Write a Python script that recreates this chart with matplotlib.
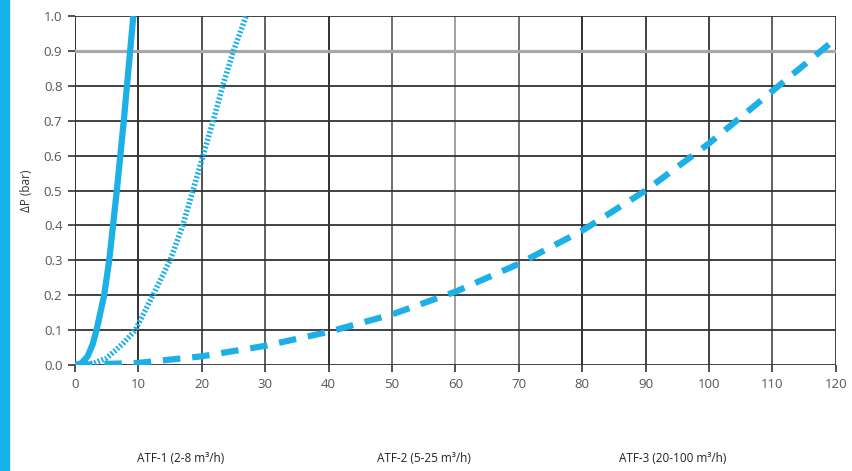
import numpy as np
import matplotlib.pyplot as plt
from matplotlib.patches import Rectangle

plt.rcParams['font.family'] = ['Open Sans', 'DejaVu Sans']

# ATF-1 (solid)
atf1_x = [0, 1.0, 2.0, 2.8, 3.4, 4.6, 5.4, 6.0, 6.6, 7.15, 7.7, 8.2, 8.7, 9.2]
atf1_y = [0, 0.005, 0.025, 0.06, 0.1, 0.2, 0.3, 0.4, 0.5, 0.6, 0.7, 0.8, 0.9, 1.0]
# ATF-2 (dotted)
atf2_x = [0, 3, 5, 7.5, 9.5, 12.3, 15.0, 17.0, 18.6, 20.2, 21.8, 23.3, 25.0, 27.0]
atf2_y = [0, 0.005, 0.02, 0.06, 0.1, 0.2, 0.3, 0.4, 0.5, 0.6, 0.7, 0.8, 0.9, 1.0]
# ATF-3 (dashed)
atf3_x = [0, 10, 20, 30, 40, 50, 60, 70, 80, 90, 100, 110, 120]
atf3_y = [0, 0.006, 0.025, 0.055, 0.095, 0.145, 0.21, 0.29, 0.385, 0.5, 0.635, 0.785, 0.935]

x_ticks = list(range(0, 121, 10))
y_ticks = [round(v * 0.1, 1) for v in range(11)]
series_labels = ['ATF-1 (2-8 m³/h)', 'ATF-2 (5-25 m³/h)', 'ATF-3 (20-100 m³/h)']
label_pos = [0.212, 0.497, 0.789]

blue = '#1cb0e6'

fig = plt.figure(figsize=(8.52, 4.71), dpi=100)
ax = fig.add_axes([0.088, 0.225, 0.893, 0.741])

# grid
vcols = {0: '#222', 10: '#222', 20: '#444', 30: '#555', 40: '#222', 50: '#666',
         60: '#999', 70: '#666', 80: '#222', 90: '#333', 100: '#333', 110: '#555', 120: '#333'}
for xv in x_ticks:
    ax.axvline(xv, color=vcols[xv], lw=1.3, zorder=1)
for yv in y_ticks:
    if yv == 0.9:
        ax.axhline(yv, color='#a8a8a8', lw=2.3, zorder=1)
    else:
        ax.axhline(yv, color='#333', lw=1.3, zorder=1)

ax.plot(atf3_x, atf3_y, color=blue, lw=4.5, dashes=(2.8, 1.9), zorder=3)
ax.plot(atf2_x, atf2_y, color=blue, lw=4, dashes=(0.35, 0.35), zorder=3)
ax.plot(atf1_x, atf1_y, color=blue, lw=4.5, solid_capstyle='butt', zorder=4)

ax.set_xlim(0, 120)
ax.set_ylim(0, 1.0)
ax.set_xticks(x_ticks)
ax.set_yticks(y_ticks)
ax.set_yticklabels([f'{v:.1f}' for v in y_ticks])
for s in ax.spines.values():
    s.set_visible(False)
ax.tick_params(length=5, width=1.2, color='#333', labelcolor='#555', labelsize=9.5, pad=4)
ax.set_ylabel('ΔP (bar)', fontsize=8.5, color='#333', labelpad=8)

for lab, xp in zip(series_labels, label_pos):
    fig.text(xp, 0.012, lab, ha='center', va='bottom', fontsize=8.5, color='#222')

fig.patches.append(Rectangle((0, 0), 0.0105, 1, transform=fig.transFigure,
                             color='#16b2e9', zorder=0))

fig.savefig('out.png', dpi=100)
